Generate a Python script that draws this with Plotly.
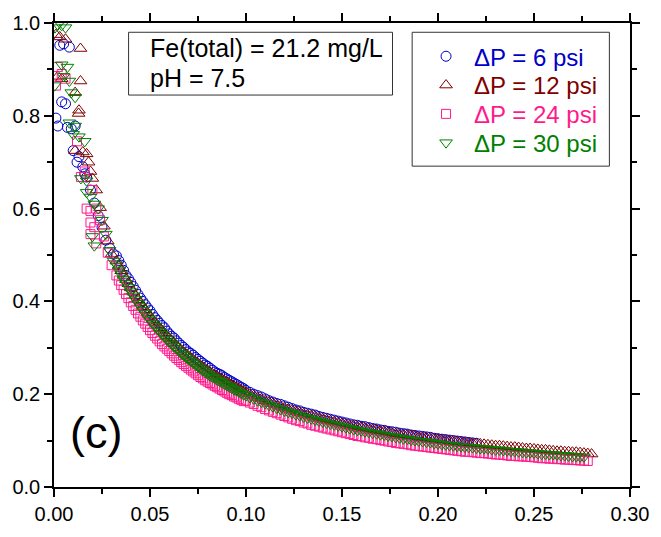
import plotly.graph_objects as go

# ---------------- data ----------------
series_names = ["ΔP = 6 psi", "ΔP = 12 psi", "ΔP = 24 psi", "ΔP = 30 psi"]
series_colors = ["#0000c8", "#800000", "#ff1a8c", "#008000"]
series_symbols = ["circle-open", "triangle-up-open", "square-open", "triangle-down-open"]

# early (scattered) part, per series
x_early_6 = [0.001, 0.002, 0.003, 0.004, 0.005, 0.006, 0.007, 0.008, 0.009, 0.010, 0.011, 0.012,
             0.013, 0.015, 0.016, 0.017, 0.019, 0.021, 0.023, 0.025, 0.027, 0.029, 0.031]
y_early_6 = [0.795, 0.778, 0.952, 0.830, 0.955, 0.826, 0.775, 0.948, 0.772, 0.725, 0.778, 0.700,
             0.712, 0.690, 0.675, 0.668, 0.640, 0.612, 0.585, 0.560, 0.532, 0.515, 0.502]

x_early_12 = [0.001, 0.002, 0.003, 0.004, 0.006, 0.011, 0.0128, 0.013, 0.0138, 0.0138, 0.011,
              0.015, 0.017, 0.018, 0.019, 0.020, 0.022, 0.024, 0.026, 0.028, 0.030]
y_early_12 = [0.975, 0.885, 0.970, 0.880, 0.965, 0.850, 0.805, 0.812, 0.945, 0.875, 0.725,
              0.722, 0.718, 0.700, 0.680, 0.665, 0.640, 0.602, 0.562, 0.530, 0.502]

x_early_24 = [0.001, 0.002, 0.004, 0.006, 0.012, 0.014, 0.016, 0.017, 0.019, 0.019, 0.021,
              0.019, 0.022, 0.020, 0.022, 0.024, 0.026, 0.028, 0.030]
y_early_24 = [0.865, 0.905, 0.890, 0.880, 0.745, 0.668, 0.680, 0.600, 0.595, 0.570, 0.560,
              0.545, 0.525, 0.640, 0.600, 0.575, 0.540, 0.505, 0.478]

x_early_30 = [0.0005, 0.002, 0.004, 0.006, 0.0003, 0.004, 0.007, 0.005, 0.008, 0.009, 0.011,
              0.008, 0.011, 0.010, 0.013, 0.016, 0.014, 0.017, 0.017, 0.019, 0.021, 0.023,
              0.020, 0.021, 0.025, 0.027, 0.029, 0.031]
y_early_30 = [0.990, 0.996, 0.995, 0.990, 0.865, 0.910, 0.905, 0.885, 0.875, 0.850, 0.840,
              0.785, 0.778, 0.760, 0.755, 0.745, 0.665, 0.660, 0.635, 0.625, 0.610, 0.600,
              0.540, 0.520, 0.575, 0.545, 0.510, 0.487]

# middle part (shared x, two interleaved samplings)
x_mid = [0.0325, 0.035, 0.0375, 0.040, 0.0425, 0.045, 0.0475, 0.050, 0.0525, 0.055, 0.0575,
         0.060, 0.0625, 0.065, 0.0675, 0.070, 0.0725, 0.075, 0.0775, 0.080, 0.0825, 0.085,
         0.0875, 0.090, 0.0925, 0.095, 0.0975]
x_mid_b = [0.03375, 0.03625, 0.03875, 0.04125, 0.04375, 0.04625, 0.04875, 0.05125, 0.05375,
           0.05625, 0.05875, 0.06125, 0.06375, 0.06625, 0.06875, 0.07125, 0.07375, 0.07625,
           0.07875, 0.08125, 0.08375, 0.08625, 0.08875, 0.09125, 0.09375, 0.09625, 0.09875]

y_mid_6 = [0.498, 0.478, 0.456, 0.441, 0.424, 0.407, 0.393, 0.380, 0.365, 0.353, 0.343, 0.330,
           0.321, 0.310, 0.301, 0.291, 0.284, 0.275, 0.267, 0.260, 0.252, 0.245, 0.240, 0.233,
           0.227, 0.221, 0.215]
y_mid_b_6 = [0.488, 0.467, 0.449, 0.432, 0.415, 0.400, 0.386, 0.372, 0.359, 0.348, 0.336, 0.325,
             0.315, 0.305, 0.296, 0.288, 0.279, 0.271, 0.263, 0.256, 0.248, 0.243, 0.236, 0.230,
             0.224, 0.218, 0.212]
y_mid_12 = [0.487, 0.466, 0.447, 0.429, 0.412, 0.397, 0.382, 0.368, 0.355, 0.343, 0.332, 0.321,
            0.311, 0.300, 0.291, 0.282, 0.274, 0.266, 0.258, 0.251, 0.244, 0.238, 0.232, 0.226,
            0.220, 0.215, 0.209]
y_mid_b_12 = [0.476, 0.456, 0.438, 0.420, 0.404, 0.389, 0.375, 0.361, 0.349, 0.337, 0.326, 0.316,
              0.305, 0.295, 0.286, 0.278, 0.270, 0.262, 0.254, 0.247, 0.241, 0.235, 0.229, 0.223,
              0.217, 0.212, 0.206]
y_mid_24 = [0.456, 0.435, 0.416, 0.398, 0.382, 0.367, 0.352, 0.338, 0.326, 0.314, 0.303, 0.293,
            0.283, 0.274, 0.265, 0.257, 0.249, 0.241, 0.234, 0.227, 0.221, 0.215, 0.209, 0.203,
            0.198, 0.193, 0.188]
y_mid_b_24 = [0.445, 0.425, 0.407, 0.390, 0.374, 0.359, 0.345, 0.332, 0.320, 0.308, 0.298, 0.288,
              0.278, 0.269, 0.261, 0.253, 0.245, 0.237, 0.230, 0.224, 0.218, 0.212, 0.206, 0.200,
              0.195, 0.190, 0.185]
y_mid_30 = [0.479, 0.458, 0.439, 0.421, 0.404, 0.389, 0.374, 0.360, 0.347, 0.335, 0.324, 0.313,
            0.303, 0.293, 0.284, 0.275, 0.267, 0.259, 0.251, 0.244, 0.237, 0.231, 0.225, 0.219,
            0.213, 0.208, 0.202]
y_mid_b_30 = [0.468, 0.448, 0.430, 0.412, 0.396, 0.381, 0.367, 0.353, 0.341, 0.329, 0.318, 0.308,
              0.298, 0.288, 0.279, 0.271, 0.263, 0.255, 0.247, 0.240, 0.234, 0.228, 0.222, 0.216,
              0.210, 0.205, 0.199]

# tail part (shared x, two interleaved samplings)
x_tail = [0.100, 0.104, 0.108, 0.112, 0.116, 0.120, 0.124, 0.128, 0.132, 0.136, 0.140, 0.144,
          0.148, 0.152, 0.156, 0.160, 0.164, 0.168, 0.172, 0.176, 0.180, 0.184, 0.188, 0.192,
          0.196, 0.200, 0.204, 0.208, 0.212, 0.216, 0.220, 0.224, 0.228, 0.232, 0.236, 0.240,
          0.244, 0.248, 0.252, 0.256, 0.260, 0.264, 0.268, 0.272, 0.276, 0.280]
x_tail_b = [0.102, 0.106, 0.110, 0.114, 0.118, 0.122, 0.126, 0.130, 0.134, 0.138, 0.142, 0.146,
            0.150, 0.154, 0.158, 0.162, 0.166, 0.170, 0.174, 0.178, 0.182, 0.186, 0.190, 0.194,
            0.198, 0.202, 0.206, 0.210, 0.214, 0.218, 0.222, 0.226, 0.230, 0.234, 0.238, 0.242,
            0.246, 0.250, 0.254, 0.258, 0.262, 0.266, 0.270, 0.274, 0.278]

y_tail_6 = [0.208, 0.200, 0.194, 0.186, 0.180, 0.175, 0.169, 0.164, 0.159, 0.155, 0.150, 0.146,
            0.142, 0.138, 0.134, 0.131, 0.128, 0.125, 0.122, 0.119, 0.116, 0.114, 0.111, 0.109,
            0.107, 0.104, 0.102, 0.100, 0.098, 0.096, 0.094]
y_tail_b_6 = [0.204, 0.197, 0.190, 0.183, 0.178, 0.172, 0.166, 0.161, 0.157, 0.152, 0.148, 0.144,
              0.140, 0.136, 0.133, 0.130, 0.126, 0.123, 0.120, 0.118, 0.115, 0.112, 0.110, 0.108,
              0.105, 0.103, 0.101, 0.099, 0.097, 0.095]
y_tail_12 = [0.204, 0.197, 0.190, 0.183, 0.177, 0.171, 0.166, 0.161, 0.156, 0.152, 0.147, 0.143,
             0.139, 0.135, 0.132, 0.129, 0.126, 0.123, 0.120, 0.117, 0.114, 0.112, 0.110, 0.107,
             0.105, 0.103, 0.101, 0.099, 0.097, 0.095, 0.094, 0.092, 0.090, 0.089, 0.087, 0.086,
             0.084, 0.083, 0.081, 0.080, 0.078, 0.077, 0.076, 0.075, 0.073, 0.071]
y_tail_b_12 = [0.200, 0.193, 0.186, 0.180, 0.174, 0.168, 0.163, 0.158, 0.154, 0.149, 0.145, 0.141,
               0.137, 0.133, 0.130, 0.127, 0.124, 0.121, 0.118, 0.115, 0.113, 0.111, 0.108, 0.106,
               0.104, 0.102, 0.100, 0.098, 0.096, 0.094, 0.093, 0.091, 0.089, 0.088, 0.086, 0.085,
               0.083, 0.082, 0.080, 0.079, 0.077, 0.076, 0.075, 0.074, 0.072]
y_tail_24 = [0.186, 0.179, 0.172, 0.165, 0.159, 0.153, 0.147, 0.142, 0.137, 0.132, 0.128, 0.124,
             0.120, 0.116, 0.112, 0.109, 0.106, 0.103, 0.100, 0.097, 0.094, 0.092, 0.089, 0.087,
             0.085, 0.083, 0.081, 0.079, 0.077, 0.076, 0.074, 0.073, 0.071, 0.070, 0.068, 0.067,
             0.066, 0.065, 0.063, 0.062, 0.061, 0.060, 0.059, 0.058, 0.057]
y_tail_b_24 = [0.182, 0.175, 0.168, 0.162, 0.156, 0.150, 0.144, 0.139, 0.134, 0.130, 0.126, 0.122,
               0.118, 0.114, 0.110, 0.107, 0.104, 0.101, 0.098, 0.095, 0.093, 0.090, 0.088, 0.086,
               0.084, 0.082, 0.080, 0.078, 0.076, 0.075, 0.073, 0.072, 0.070, 0.069, 0.067, 0.066,
               0.065, 0.064, 0.062, 0.061, 0.060, 0.059, 0.058, 0.057, 0.056]
y_tail_30 = [0.197, 0.190, 0.183, 0.176, 0.170, 0.164, 0.159, 0.154, 0.149, 0.144, 0.140, 0.136,
             0.132, 0.128, 0.124, 0.121, 0.118, 0.115, 0.112, 0.109, 0.106, 0.103, 0.100, 0.098,
             0.096, 0.093, 0.091, 0.089, 0.087, 0.086, 0.084, 0.083, 0.081, 0.080, 0.078, 0.077,
             0.075, 0.074, 0.072, 0.071, 0.070, 0.068, 0.067, 0.066, 0.065]
y_tail_b_30 = [0.193, 0.186, 0.180, 0.173, 0.167, 0.161, 0.156, 0.151, 0.147, 0.142, 0.138, 0.134,
               0.130, 0.126, 0.122, 0.119, 0.116, 0.113, 0.110, 0.107, 0.104, 0.101, 0.099, 0.097,
               0.094, 0.092, 0.090, 0.088, 0.086, 0.085, 0.083, 0.082, 0.080, 0.079, 0.077, 0.076,
               0.074, 0.073, 0.071, 0.070, 0.069, 0.068, 0.066, 0.065]

x_early = [x_early_6, x_early_12, x_early_24, x_early_30]
y_early = [y_early_6, y_early_12, y_early_24, y_early_30]
y_mid = [y_mid_6, y_mid_12, y_mid_24, y_mid_30]
y_mid_b = [y_mid_b_6, y_mid_b_12, y_mid_b_24, y_mid_b_30]
y_tail = [y_tail_6, y_tail_12, y_tail_24, y_tail_30]
y_tail_b = [y_tail_b_6, y_tail_b_12, y_tail_b_24, y_tail_b_30]

x_ticks = [0.00, 0.05, 0.10, 0.15, 0.20, 0.25, 0.30]
y_ticks = [0.0, 0.2, 0.4, 0.6, 0.8, 1.0]

# ---------------- figure ----------------
fig = go.Figure()
sizes = [10, 11, 9, 11]
legend_ids = ["legend", "legend2", "legend3", "legend4"]
legend_rows_y = [0.9275, 0.8654, 0.8033, 0.7412]   # paper y of each legend row
for i in range(4):
    xs = (x_early[i] + x_mid + x_mid_b
          + x_tail[:len(y_tail[i])] + x_tail_b[:len(y_tail_b[i])])
    ys = y_early[i] + y_mid[i] + y_mid_b[i] + y_tail[i] + y_tail_b[i]
    fig.add_trace(go.Scatter(
        x=xs, y=ys, mode="markers", legend=legend_ids[i], showlegend=True,
        name='<span style="color:%s">%s</span>' % (series_colors[i], series_names[i]),
        marker=dict(symbol=series_symbols[i], size=sizes[i], color=series_colors[i],
                    line=dict(width=1, color=series_colors[i])),
    ))

axis_common = dict(
    showgrid=False, zeroline=False, showline=True, linecolor="black", linewidth=1.5,
    ticks="outside", ticklen=8, tickwidth=1.5, tickcolor="black", mirror="ticks",
    tickfont=dict(size=20, color="black"),
)
fig.update_xaxes(range=[0, 0.30], tickvals=x_ticks, tickformat=".2f",
                 minor=dict(ticks="outside", ticklen=5, tickwidth=1.5, dtick=0.025, tick0=0,
                            tickcolor="black", showgrid=False),
                 **axis_common)
fig.update_yaxes(range=[0, 1.0], tickvals=y_ticks, tickformat=".1f",
                 minor=dict(ticks="outside", ticklen=5, tickwidth=1.5, dtick=0.1, tick0=0,
                            tickcolor="black", showgrid=False),
                 **axis_common)

# text box
fig.add_shape(type="rect", xref="paper", yref="paper", x0=0.1295, x1=0.5877, y0=0.8447, y1=0.980,
              line=dict(color="#333333", width=1), fillcolor="white", layer="below")
# legend frame
fig.add_shape(type="rect", xref="paper", yref="paper", x0=0.6218, x1=0.9642, y0=0.6915, y1=0.980,
              line=dict(color="#333333", width=1), fillcolor="white", layer="below")

fig.add_annotation(text="Fe(total) = 21.2 mg/L", xref="paper", yref="paper", x=0.1635, y=0.946,
                   xanchor="left", yanchor="middle", showarrow=False, font=dict(size=25, color="black"))
fig.add_annotation(text="pH = 7.5", xref="paper", yref="paper", x=0.1635, y=0.881,
                   xanchor="left", yanchor="middle", showarrow=False, font=dict(size=25, color="black"))
fig.add_annotation(text="(c)", xref="paper", yref="paper", x=0.0733, y=0.118,
                   xanchor="center", yanchor="middle", showarrow=False, font=dict(size=45, color="black"))

legend_style = dict(x=0.632, xanchor="left", yanchor="middle", borderwidth=0,
                    bgcolor="rgba(0,0,0,0)", font=dict(size=24), itemwidth=46, visible=True)
layout_legends = {lid: dict(y=legend_rows_y[k], **legend_style) for k, lid in enumerate(legend_ids)}

fig.update_layout(
    width=661, height=537,
    margin=dict(l=52, r=22, t=18, b=36),
    plot_bgcolor="white", paper_bgcolor="white",
    showlegend=True,
    font=dict(family="Liberation Sans, Arial, sans-serif", size=20, color="black"),
    **layout_legends,
)

fig.write_html("out.html")
